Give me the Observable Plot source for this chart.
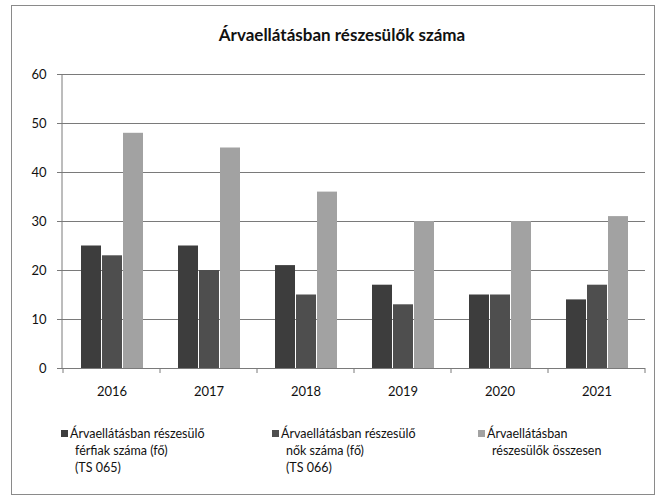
<!DOCTYPE html>
<html>
<head>
<meta charset="utf-8">
<script src="https://cdn.jsdelivr.net/npm/d3@7"></script>
<script src="https://cdn.jsdelivr.net/npm/@observablehq/plot@0.6"></script>
<style>
  html, body { margin: 0; padding: 0; background: #fff; }
  #wrap { position: relative; width: 658px; height: 498px; overflow: hidden; font-family: Lato, "Open Sans", sans-serif; color: #111; }
  #border { position: absolute; left: 11px; top: 5px; width: 642px; height: 488px; border: 1px solid #8a8a8a; }
  #title { position: absolute; left: 0; width: 684px; top: 24px; text-align: center; font-size: 17px; font-weight: bold; color: #111; }
  #chart { position: absolute; left: 0; top: 60px; }
  .leg { position: absolute; font-size: 12.5px; line-height: 17px; color: #111; }
  .leg .sw { position: absolute; left: -9px; top: 5px; width: 7px; height: 7px; }
</style>
</head>
<body>
<div id="wrap">
  <div id="border"></div>
  <div id="title">Árvaellátásban részesülők száma</div>
  <div id="chart"></div>
  <div id="legend"></div>
</div>
<script>
const years = ["2016", "2017", "2018", "2019", "2020", "2021"];
const seriesNames = [
  "Árvaellátásban részesülő férfiak száma (fő) (TS 065)",
  "Árvaellátásban részesülő nők száma (fő) (TS 066)",
  "Árvaellátásban részesülők összesen"
];
const legendLines = [
  ["Árvaellátásban részesülő", "férfiak száma (fő)", "(TS 065)"],
  ["Árvaellátásban részesülő", "nők száma (fő)", "(TS 066)"],
  ["Árvaellátásban", "részesülők összesen"]
];
const men = [25, 25, 21, 17, 15, 14];
const women = [23, 20, 15, 13, 15, 17];
const total = [48, 45, 36, 30, 30, 31];
const colors = ["#3d3d3d", "#4e4e4e", "#a2a2a2"];
const yTicks = [0, 10, 20, 30, 40, 50, 60];

const seriesValues = [men, women, total];
const data = [];
years.forEach((yr, i) => {
  seriesNames.forEach((s, j) => data.push({year: yr, series: s, value: seriesValues[j][i]}));
});

const chart = Plot.plot({
  width: 658,
  height: 340,
  marginLeft: 62,
  marginRight: 12,
  marginTop: 14,
  marginBottom: 32,
  style: {fontFamily: "Lato, 'Open Sans', sans-serif", fontSize: "13px", color: "#111", background: "transparent"},
  fx: {domain: years, paddingInner: 0, paddingOuter: 0, label: null},
  x: {domain: seriesNames, paddingInner: 0.06, paddingOuter: 0.77, axis: null},
  y: {domain: [0, 60], ticks: yTicks, label: null},
  color: {domain: seriesNames, range: colors},
  marks: [
    Plot.gridY(yTicks.filter(d => d > 0), {stroke: "#7a7a7a", strokeOpacity: 1}),
    Plot.barY(data, {fx: "year", x: "series", y: "value", fill: "series"}),
    Plot.ruleY([0], {stroke: "#7a7a7a"}),
    Plot.axisY(yTicks, {tickSize: 6, tickPadding: 11, stroke: "#7a7a7a", fill: "#111", fontSize: 13}),
    Plot.axisFx({anchor: "bottom", tickSize: 0, tickPadding: 18, fontSize: 13, fill: "#111", label: null})
  ]
});
document.getElementById("chart").appendChild(chart);

const svg = d3.select(chart);
const yScale = chart.scale("y");
const fxScale = chart.scale("fx");
const y0 = yScale.apply(0);
// left vertical axis line
svg.append("line")
  .attr("x1", 62).attr("x2", 62)
  .attr("y1", yScale.apply(60)).attr("y2", y0)
  .attr("stroke", "#7a7a7a");
// category boundary ticks below the axis
const bw = fxScale.bandwidth;
const bounds = years.map(y => fxScale.apply(y)).concat([fxScale.apply(years[years.length - 1]) + bw]);
bounds.forEach(x => {
  svg.append("line")
    .attr("x1", x).attr("x2", x)
    .attr("y1", y0).attr("y2", y0 + 5)
    .attr("stroke", "#7a7a7a");
});

// legend
const legendX = [70, 281, 487];
const legend = document.getElementById("legend");
legendLines.forEach((lines, j) => {
  const div = document.createElement("div");
  div.className = "leg";
  div.style.left = legendX[j] + "px";
  div.style.top = "425px";
  const sw = document.createElement("span");
  sw.className = "sw";
  sw.style.background = colors[j];
  div.appendChild(sw);
  lines.forEach((t, k) => {
    const l = document.createElement("div");
    l.textContent = t;
    if (k > 0) l.style.paddingLeft = "5px";
    div.appendChild(l);
  });
  legend.appendChild(div);
});
</script>
</body>
</html>
